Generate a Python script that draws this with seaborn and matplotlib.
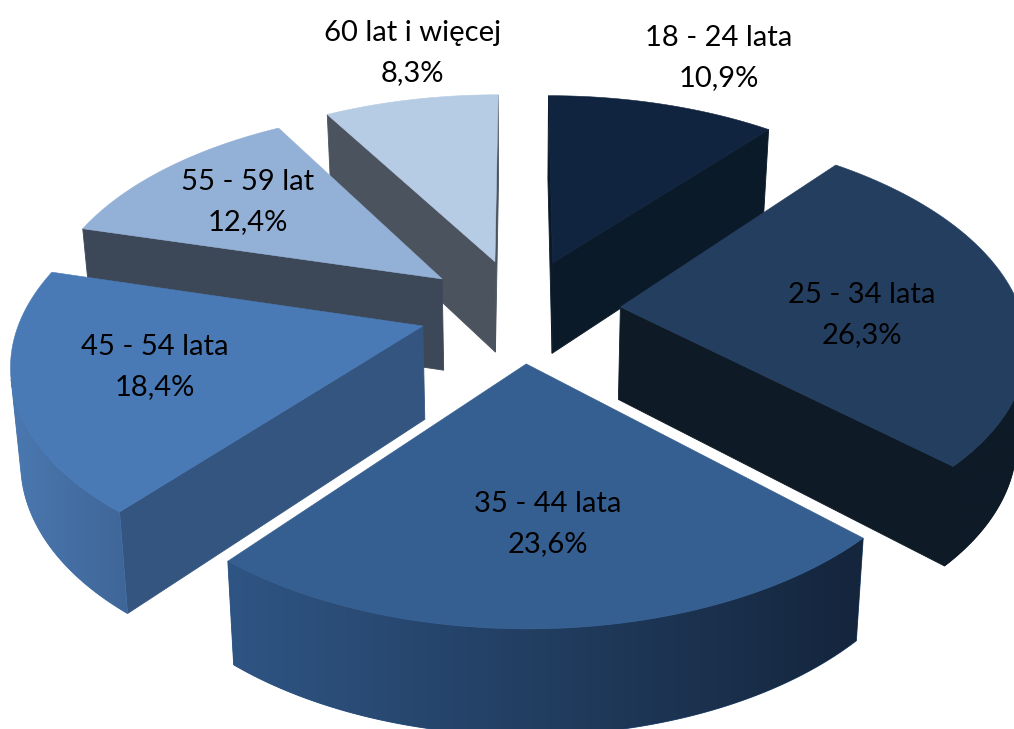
"""Exploded 3D pie of age groups, drawn as projected polygons."""
import numpy as np
import matplotlib
matplotlib.use("Agg")
import matplotlib.pyplot as plt
import seaborn as sns

AGE_GROUPS = ["18 - 24 lata", "25 - 34 lata", "35 - 44 lata",
              "45 - 54 lata", "55 - 59 lat", "60 lat i więcej"]
SHARES = [10.9, 26.3, 23.6, 18.4, 12.4, 8.3]

TOP_COLORS = ["#10243f", "#243e60", "#365f91", "#4a7ab6", "#93b0d6", "#b6cbe4"]
CUT_COLORS = ["#0b1a29", "#0e1b27", "#1c3350", "#33557f", "#3c4858", "#4b535e"]
# rim gradient, left to right on screen
RIM_LEFT = ["#0b1a29", "#0e1b27", "#2f5584", "#4a78b0", "#3c4858", "#4b535e"]
RIM_RIGHT = ["#0b1a29", "#0e1b27", "#14253c", "#3f6698", "#3c4858", "#4b535e"]

# label centres in pixels
LABEL_X = [719, 862, 548, 155, 248, 412]
LABEL_Y = [58, 315, 524, 367, 202, 53]

# projection settings, fitted to the picture
CX, CY = 520, 310
SCALE_X, SCALE_Y = 400, 206
PERSP = 0.153
EXPLODE = 0.252
DEPTH = 92.6
BOTTOM_X, BOTTOM_Y = 0.98, 1.044


def project(x, y):
    w = 1 + PERSP * y
    return CX + SCALE_X * x / w, CY - SCALE_Y * y / w


def drop(px, py):
    return CX + (px - CX) * BOTTOM_X, CY + (py - CY) * BOTTOM_Y + DEPTH


def signed_area(xs, ys):
    return np.sum(xs * np.roll(ys, -1) - np.roll(xs, -1) * ys)


def draw_side(ax, x0, y0, x1, y1, color, z):
    bx0, by0 = drop(x0, y0)
    bx1, by1 = drop(x1, y1)
    xs = np.array([x0, x1, bx1, bx0])
    ys = np.array([y0, y1, by1, by0])
    if signed_area(xs, ys) < 0:
        ax.fill(xs, ys, color=color, lw=0.6, zorder=z)


def draw_rim(ax, px, py, i, z):
    # keep only the part of the rim that faces the viewer
    bx, by = drop(px, py)
    seen = [k for k in range(len(px) - 1)
            if signed_area(np.array([px[k], px[k + 1], bx[k + 1], bx[k]]),
                           np.array([py[k], py[k + 1], by[k + 1], by[k]])) < 0]
    if not seen:
        return
    idx = np.array(seen + [seen[-1] + 1])
    xs = np.r_[px[idx], bx[idx][::-1]]
    ys = np.r_[py[idx], by[idx][::-1]]
    patch = ax.fill(xs, ys, color=RIM_LEFT[i], lw=0.6, zorder=z)[0]
    ramp = np.array(sns.blend_palette([RIM_LEFT[i], RIM_RIGHT[i]], 256))[None, :, :]
    img = ax.imshow(ramp, aspect="auto", interpolation="bilinear", zorder=z + 1,
                    extent=[xs.min(), xs.max(), ys.max(), ys.min()])
    img.set_clip_path(patch)


def draw_slice(ax, start, end, i, z):
    mid = (start + end) / 2
    ox, oy = EXPLODE * np.sin(mid), EXPLODE * np.cos(mid)
    theta = np.linspace(start, end, 120)
    px, py = project(ox + np.sin(theta), oy + np.cos(theta))
    tip_x, tip_y = project(ox, oy)

    draw_side(ax, tip_x, tip_y, px[0], py[0], CUT_COLORS[i], z)
    draw_side(ax, px[-1], py[-1], tip_x, tip_y, CUT_COLORS[i], z)
    draw_rim(ax, px, py, i, z)
    ax.fill(np.r_[tip_x, px], np.r_[tip_y, py], color=TOP_COLORS[i], lw=0.4, zorder=z + 2)


def main():
    sns.set_theme(style="white")
    plt.rcParams["font.family"] = ["Lato", "DejaVu Sans"]

    fig = plt.figure(figsize=(10.14, 7.29), dpi=100)
    ax = fig.add_axes([0, 0, 1, 1])

    edges = np.radians(np.r_[0, np.cumsum(SHARES)] / sum(SHARES) * 360)
    mids = (edges[:-1] + edges[1:]) / 2
    # back slices first
    for rank, i in enumerate(np.argsort(-np.cos(mids))):
        draw_slice(ax, edges[i], edges[i + 1], i, 1 + rank * 3)

    for i, name in enumerate(AGE_GROUPS):
        value = f"{SHARES[i]:.1f}".replace(".", ",") + "%"
        ax.text(LABEL_X[i], LABEL_Y[i], f"{name}\n{value}", ha="center", va="center",
                fontsize=21, color="black", linespacing=1.7, zorder=50)

    ax.set_xlim(0, 1014)
    ax.set_ylim(729, 0)
    ax.axis("off")

    fig.savefig("out.png", dpi=100)
    plt.close(fig)


if __name__ == "__main__":
    main()
